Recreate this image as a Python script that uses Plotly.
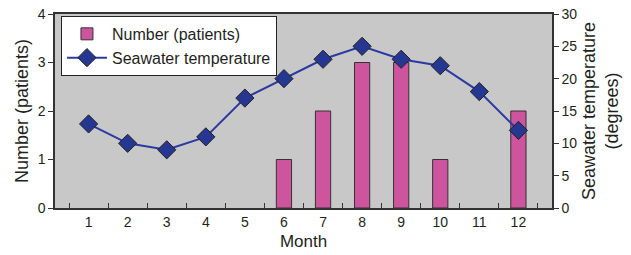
import plotly.graph_objects as go

months = ["1", "2", "3", "4", "5", "6", "7", "8", "9", "10", "11", "12"]
patients = [0, 0, 0, 0, 0, 1, 2, 3, 3, 1, 0, 2]
temperature = [13, 10, 9, 11, 17, 20, 23, 25, 23, 22, 18, 12]

FONT = "Liberation Sans, Arial, sans-serif"

fig = go.Figure()
fig.add_trace(go.Bar(
    x=months, y=[v if v else None for v in patients], name="Number (patients)",
    marker=dict(color="#cc559d", line=dict(color="#333333", width=1)),
    width=0.39, yaxis="y",
))
fig.add_trace(go.Scatter(
    x=months, y=temperature, name="Seawater temperature", yaxis="y2",
    mode="lines+markers",
    line=dict(color="#2b3aa0", width=2),
    marker=dict(symbol="diamond", size=14, color="#263791",
                line=dict(color="#222222", width=1)),
))

fig.update_layout(
    width=631, height=255,
    margin=dict(l=55, r=79, t=14, b=47, autoexpand=False),
    paper_bgcolor="white", plot_bgcolor="#c8c8c8",
    font=dict(family=FONT, size=14, color="#231f20"),
    showlegend=True,
    legend=dict(x=0.012, y=0.99, xanchor="left", yanchor="top",
                bgcolor="white", bordercolor="#222222", borderwidth=1,
                font=dict(size=16), tracegroupgap=0, itemwidth=40),
    xaxis=dict(type="category", tickson="boundaries", ticks="inside", ticklen=5,
               tickcolor="#333333", showline=True, linecolor="#333333", linewidth=1.5,
               mirror=True, showgrid=False, automargin=False,
               title=dict(text="Month", font=dict(size=17), standoff=7)),
    yaxis=dict(range=[0, 4], dtick=1, ticks="outside", ticklen=5, tickcolor="#333333",
               showline=True, linecolor="#333333", linewidth=1.5, showgrid=False,
               zeroline=False, automargin=False,
               title=dict(text="Number (patients)", font=dict(size=18), standoff=4)),
    yaxis2=dict(range=[0, 30], dtick=5, overlaying="y", side="right",
                ticks="outside", ticklen=5, tickcolor="#333333",
                showline=True, linecolor="#333333", linewidth=1.5, showgrid=False,
                zeroline=False, automargin=False,
                title=dict(text="Seawater temperature<br>(degrees)", font=dict(size=18), standoff=6)),
)

fig.write_html("out.html", config={"displayModeBar": False},
               post_script="document.body.style.margin='0';")
